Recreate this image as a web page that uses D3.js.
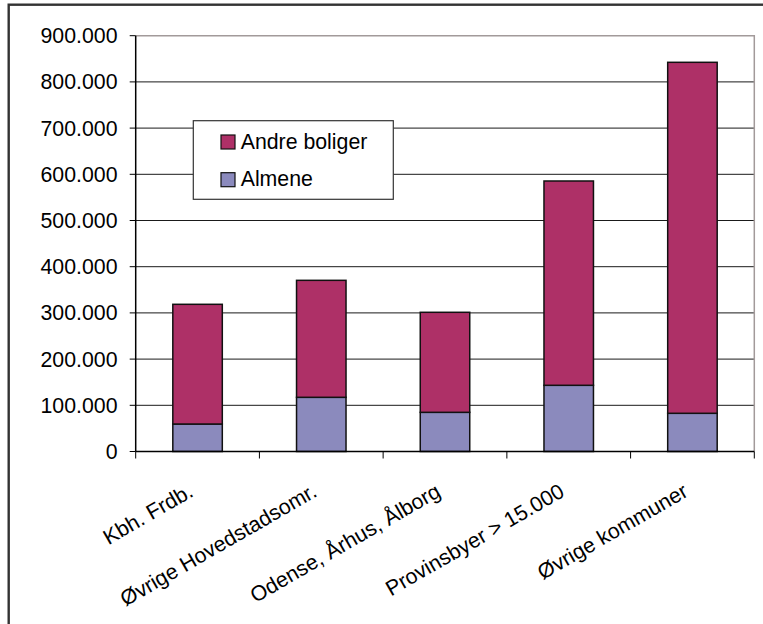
<!DOCTYPE html>
<html>
<head>
<meta charset="utf-8">
<script src="https://cdn.jsdelivr.net/npm/d3@7/dist/d3.min.js"></script>
<style>
  html, body { margin: 0; padding: 0; background: #fff; }
  svg { display: block; }
  text { font-family: "Liberation Sans", Arial, sans-serif; fill: #000; }
</style>
</head>
<body>
<svg id="chart" width="763" height="624"></svg>
<script>
// Boliger fordelt på områder (antal)
const categories = [
  "Kbh. Frdb.",
  "Øvrige Hovedstadsomr.",
  "Odense, Århus, Ålborg",
  "Provinsbyer > 15.000",
  "Øvrige kommuner"
];
const almene       = [59500, 117300, 84800, 143300, 82700];
const andreBoliger = [259100, 253200, 216500, 442200, 759700];
const seriesNames  = ["Almene", "Andre boliger"];
const yTicks       = [0, 100000, 200000, 300000, 400000, 500000, 600000, 700000, 800000, 900000];

const colors = { "Almene": "#8b8abd", "Andre boliger": "#ae3067" };
const FONT = 21.3;

const svg = d3.select("#chart");
const W = 763, H = 624;

// outer frame (only left and top edges fall inside the canvas)
svg.append("rect")
  .attr("x", 8.7).attr("y", 4.7)
  .attr("width", W + 20).attr("height", H + 20)
  .attr("fill", "#fff")
  .attr("stroke", "#333").attr("stroke-width", 2.4);

const plot = { left: 135.7, right: 754.3, top: 35.7, bottom: 451.5 };

const x = d3.scaleBand()
  .domain(categories)
  .range([plot.left, plot.right])
  .paddingInner(0.6)
  .paddingOuter(0.3);

const y = d3.scaleLinear()
  .domain([0, 900000])
  .range([plot.bottom, plot.top]);

const locale = d3.formatLocale({ decimal: ",", thousands: ".", grouping: [3], currency: ["", ""] });
const fmt = locale.format(",d");

// horizontal gridlines
svg.append("g")
  .selectAll("line")
  .data(yTicks.filter(v => v > 0 && v < 900000))
  .join("line")
  .attr("x1", plot.left).attr("x2", plot.right)
  .attr("y1", d => y(d)).attr("y2", d => y(d))
  .attr("stroke", "#1a1a1a").attr("stroke-width", 1);

// plot area border (top and right)
svg.append("path")
  .attr("d", `M${plot.left},${y(900000)}H${plot.right}V${plot.bottom}`)
  .attr("fill", "none")
  .attr("stroke", "#a29a9a").attr("stroke-width", 1.5);

// stacked bars
const rows = categories.map((c, i) => ({ cat: c, "Almene": almene[i], "Andre boliger": andreBoliger[i] }));
const stacked = d3.stack().keys(seriesNames)(rows);

svg.append("g")
  .selectAll("g")
  .data(stacked)
  .join("g")
  .attr("fill", d => colors[d.key])
  .selectAll("rect")
  .data(d => d)
  .join("rect")
  .attr("x", d => x(d.data.cat))
  .attr("width", x.bandwidth())
  .attr("y", d => y(d[1]))
  .attr("height", d => y(d[0]) - y(d[1]))
  .attr("stroke", "#111").attr("stroke-width", 1.5);

// y axis
const yAxis = svg.append("g");
yAxis.append("line")
  .attr("x1", plot.left).attr("x2", plot.left)
  .attr("y1", plot.top).attr("y2", plot.bottom)
  .attr("stroke", "#000").attr("stroke-width", 1.5);
yAxis.selectAll("line.tick")
  .data(yTicks)
  .join("line").attr("class", "tick")
  .attr("x1", plot.left - 6).attr("x2", plot.left)
  .attr("y1", d => y(d)).attr("y2", d => y(d))
  .attr("stroke", "#000").attr("stroke-width", 1);
yAxis.selectAll("text")
  .data(yTicks)
  .join("text")
  .attr("x", 117.5)
  .attr("y", d => y(d) + 7.4)
  .attr("text-anchor", "end")
  .attr("font-size", FONT)
  .text(d => fmt(d));

// x axis
const xAxis = svg.append("g");
xAxis.append("line")
  .attr("x1", plot.left).attr("x2", plot.right)
  .attr("y1", plot.bottom).attr("y2", plot.bottom)
  .attr("stroke", "#000").attr("stroke-width", 1.5);
const boundaries = d3.range(categories.length + 1).map(i => plot.left + i * x.step());
xAxis.selectAll("line.tick")
  .data(boundaries)
  .join("line").attr("class", "tick")
  .attr("x1", d => d).attr("x2", d => d)
  .attr("y1", plot.bottom).attr("y2", plot.bottom + 7)
  .attr("stroke", "#000").attr("stroke-width", 1);
xAxis.selectAll("text")
  .data(categories)
  .join("text")
  .attr("text-anchor", "end")
  .attr("font-size", FONT)
  .attr("transform", d => `translate(${x(d) + x.bandwidth() / 2 - 3},${plot.bottom + 44}) rotate(-30)`)
  .text(d => d);

// legend
const legend = svg.append("g");
legend.append("rect")
  .attr("x", 193.3).attr("y", 120.7)
  .attr("width", 200).attr("height", 78.6)
  .attr("fill", "#fff")
  .attr("stroke", "#333").attr("stroke-width", 1.2);
const legendItems = ["Andre boliger", "Almene"];
const li = legend.selectAll("g.item")
  .data(legendItems)
  .join("g").attr("class", "item")
  .attr("transform", (d, i) => `translate(221,${135 + i * 37.7})`);
li.append("rect")
  .attr("width", 14).attr("height", 14)
  .attr("fill", d => colors[d])
  .attr("stroke", "#111").attr("stroke-width", 1.2);
li.append("text")
  .attr("x", 19.7).attr("y", 13.5)
  .attr("font-size", FONT)
  .text(d => d);
</script>
</body>
</html>
